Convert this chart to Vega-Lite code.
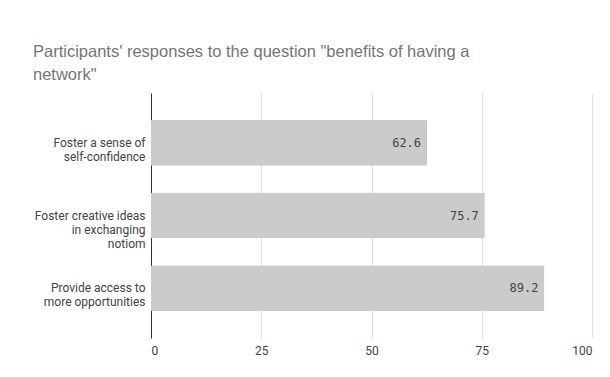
{
  "$schema": "https://vega.github.io/schema/vega-lite/v6.json",
  "autosize": {"type": "none"},
  "width": 441,
  "height": 245,
  "padding": {"left": 151, "top": 93, "right": 18, "bottom": 39},
  "background": "white",
  "title": {
    "text": ["Participants' responses to the question \"benefits of having a", "network\""],
    "anchor": "start",
    "frame": "group",
    "dx": -118,
    "offset": 10,
    "font": "Liberation Sans",
    "fontSize": 16.5,
    "fontWeight": "normal",
    "color": "#757575",
    "lineHeight": 23
  },
  "data": {
    "values": [
      {"benefit": "Foster a sense of\nself-confidence", "percent": 62.6},
      {"benefit": "Foster creative ideas\nin exchanging\nnotiom", "percent": 75.7},
      {"benefit": "Provide access to\nmore opportunities", "percent": 89.2}
    ]
  },
  "encoding": {
    "y": {
      "field": "benefit",
      "type": "nominal",
      "sort": null,
      "title": null,
      "scale": {"paddingInner": 0.37, "paddingOuter": 0.37},
      "axis": {
        "labelExpr": "split(datum.label, '\\n')",
        "labelAlign": "right",
        "labelPadding": 6,
        "labelFont": "Roboto",
        "labelFontSize": 12,
        "labelColor": "#444444",
        "labelLineHeight": 14,
        "ticks": false,
        "domain": true,
        "domainColor": "#333333",
        "grid": false,
        "labelLimit": 200
      }
    },
    "x": {
      "field": "percent",
      "type": "quantitative",
      "title": null,
      "scale": {"domain": [0, 100], "nice": false},
      "axis": {
        "values": [0, 25, 50, 75, 100],
        "grid": true,
        "gridColor": "#e0e0e0",
        "domain": false,
        "ticks": false,
        "labelPadding": 7,
        "labelFont": "Roboto",
        "labelFontSize": 12,
        "labelColor": "#444444"
      }
    }
  },
  "layer": [
    {"mark": {"type": "bar", "color": "#cbcbcb", "cornerRadius": 1}},
    {
      "mark": {"type": "text", "align": "right", "dx": -6, "font": "DejaVu Sans Mono", "fontSize": 12, "color": "#444444"},
      "encoding": {"text": {"field": "percent", "type": "quantitative", "format": ".1f"}}
    }
  ],
  "config": {"view": {"stroke": null}}
}
